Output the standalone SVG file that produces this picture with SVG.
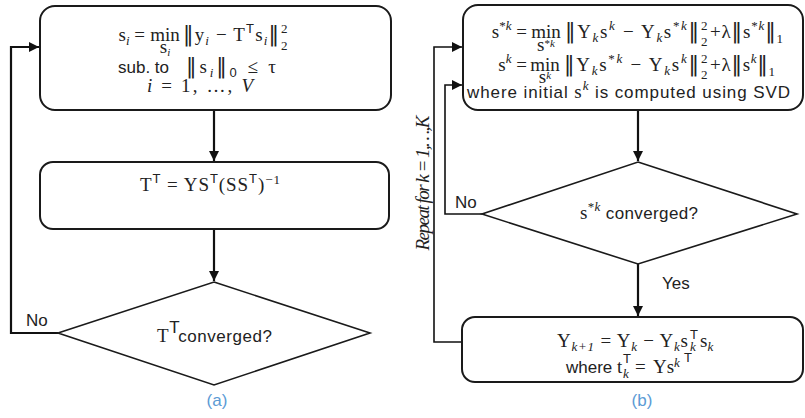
<svg xmlns="http://www.w3.org/2000/svg" width="805" height="418" viewBox="0 0 805 418">
<defs>
<style>
.box{fill:#fff;stroke:#1a1a1a;stroke-width:2}
.dia{fill:#fff;stroke:#1a1a1a;stroke-width:1.6}
.con{fill:none;stroke:#111;stroke-width:2.2}
.con2{fill:none;stroke:#111;stroke-width:1.6}
.m{font-family:"Liberation Serif","DejaVu Serif",serif;font-size:19px;fill:#222}
.t{font-family:"Liberation Sans",Arial,sans-serif;font-size:17px;fill:#222}
.it{font-style:italic}
.sm{font-size:13px}
.nb{font-family:"DejaVu Sans",sans-serif;font-size:21px}
.cap{font-family:"Liberation Sans",Arial,sans-serif;font-size:17px;fill:#5b9bd5}
</style>
<marker id="ah" markerUnits="userSpaceOnUse" markerWidth="11" markerHeight="11" refX="10" refY="5" orient="auto"><path d="M0,0 L10,5 L0,10 z" fill="#111"/></marker>
</defs>
<rect width="805" height="418" fill="#fff"/>

<g id="connectors">
<path class="con" d="M58,333 H11 V47 H39" marker-end="url(#ah)"/>
<path class="con" d="M214,110 V161" marker-end="url(#ah)"/>
<path class="con" d="M214,229 V281" marker-end="url(#ah)"/>
<path class="con2" d="M462,342 H434 V47 H462" marker-end="url(#ah)"/>
<path class="con2" d="M482,214 H445 V85 H462" marker-end="url(#ah)"/>
<path class="con" d="M638,110 V161" marker-end="url(#ah)"/>
<path class="con" d="M638,264 V316" marker-end="url(#ah)"/>
</g>

<g id="a_sparse">
<rect class="box" x="40" y="6" width="351" height="104" rx="15"/>
<text class="m" x="145" y="41" text-anchor="end">s<tspan class="it sm" dy="4">i</tspan><tspan dy="-4"> =</tspan></text>
<text class="m" x="165" y="41" text-anchor="middle">min</text>
<text class="m" x="165" y="53" text-anchor="middle" font-size="14">s<tspan class="it" font-size="11" dy="3">i</tspan></text>
<text class="m" x="183" y="41" textLength="96" lengthAdjust="spacing"><tspan class="nb">‖</tspan>y<tspan class="it sm" dy="4">i</tspan><tspan dy="-4"> − T</tspan><tspan class="t sm" dy="-8">T</tspan><tspan dy="8">s</tspan><tspan class="it sm" dy="4">i</tspan><tspan class="nb" dy="-4">‖</tspan></text>
<text class="m sm" x="281" y="33">2</text>
<text class="m sm" x="281" y="50">2</text>
<text class="t" x="118" y="73">sub. to</text>
<text class="m" x="186" y="73" textLength="90" lengthAdjust="spacing"><tspan class="nb">‖</tspan>s<tspan class="it sm" dy="4">i</tspan><tspan class="nb" dy="-4">‖</tspan><tspan class="t sm" dy="4">0</tspan><tspan dy="-4"> ≤ τ</tspan></text>
<text class="m" x="200" y="92" text-anchor="middle" textLength="106" lengthAdjust="spacing"><tspan class="it">i</tspan> = 1, …, <tspan class="it">V</tspan></text>
</g>

<g id="a_dict">
<rect class="box" x="40" y="162" width="349" height="67" rx="13"/>
<text class="m" x="140" y="191" textLength="140" lengthAdjust="spacing">T<tspan class="t sm" dy="-8">T</tspan><tspan dy="8"> = YS</tspan><tspan class="t sm" dy="-8">T</tspan><tspan dy="8">(SS</tspan><tspan class="t sm" dy="-8">T</tspan><tspan dy="8">)</tspan><tspan class="sm" dy="-7">−1</tspan></text>
</g>

<g id="a_conv">
<polygon class="dia" points="214,282 370,333 214,385 58,333"/>
<text class="m" x="157" y="342" textLength="115" lengthAdjust="spacing">T<tspan class="t" font-size="14" dy="-9">T</tspan><tspan class="t" dy="9">converged?</tspan></text>
</g>

<text class="t" x="26" y="326" font-size="16">No</text>
<text class="cap" x="217" y="406" text-anchor="middle">(a)</text>

<g id="b_update">
<rect class="box" x="463" y="5" width="340" height="105" rx="15"/>
<text class="m" x="527" y="38" text-anchor="end">s<tspan class="sm" dy="-8">*</tspan><tspan class="it sm">k</tspan><tspan dy="8"> =</tspan></text>
<text class="m" x="546" y="38" text-anchor="middle">min</text>
<text class="m" x="546" y="51" text-anchor="middle" font-size="14">s<tspan font-size="11" dy="-4">*</tspan><tspan class="it" font-size="11">k</tspan></text>
<text class="m" x="565" y="38" textLength="134" lengthAdjust="spacing"><tspan class="nb">‖</tspan>Y<tspan class="it sm" dy="4">k</tspan><tspan dy="-4">s</tspan><tspan class="it sm" dy="-8">k</tspan><tspan dy="8"> − Y</tspan><tspan class="it sm" dy="4">k</tspan><tspan dy="-4">s</tspan><tspan class="sm" dy="-8">*</tspan><tspan class="it sm">k</tspan><tspan class="nb" dy="8">‖</tspan></text>
<text class="m sm" x="701" y="30">2</text>
<text class="m sm" x="701" y="46">2</text>
<text class="m" x="710" y="38" textLength="73" lengthAdjust="spacing">+λ<tspan class="nb">‖</tspan>s<tspan class="sm" dy="-8">*</tspan><tspan class="it sm">k</tspan><tspan class="nb" dy="8">‖</tspan><tspan class="sm" dy="5">1</tspan></text>

<text class="m" x="527" y="71" text-anchor="end">s<tspan class="it sm" dy="-8">k</tspan><tspan dy="8"> =</tspan></text>
<text class="m" x="545" y="71" text-anchor="middle">min</text>
<text class="m" x="545" y="83" text-anchor="middle" font-size="14">s<tspan class="it" font-size="11" dy="-4">k</tspan></text>
<text class="m" x="564" y="71" textLength="135" lengthAdjust="spacing"><tspan class="nb">‖</tspan>Y<tspan class="it sm" dy="4">k</tspan><tspan dy="-4">s</tspan><tspan class="sm" dy="-8">*</tspan><tspan class="it sm">k</tspan><tspan dy="8"> − Y</tspan><tspan class="it sm" dy="4">k</tspan><tspan dy="-4">s</tspan><tspan class="it sm" dy="-8">k</tspan><tspan class="nb" dy="8">‖</tspan></text>
<text class="m sm" x="701" y="63">2</text>
<text class="m sm" x="701" y="79">2</text>
<text class="m" x="710" y="71" textLength="65" lengthAdjust="spacing">+λ<tspan class="nb">‖</tspan>s<tspan class="it sm" dy="-8">k</tspan><tspan class="nb" dy="8">‖</tspan><tspan class="sm" dy="5">1</tspan></text>

<text class="t" x="467" y="98" textLength="323" lengthAdjust="spacing">where initial <tspan class="m">s</tspan><tspan class="m it sm" dy="-8">k</tspan><tspan dy="8"> is computed using SVD</tspan></text>
</g>

<g id="b_conv">
<polygon class="dia" points="638,162 797,214 638,264 482,214"/>
<text class="m" x="580" y="219" textLength="118" lengthAdjust="spacing">s<tspan class="sm" dy="-8">*</tspan><tspan class="it sm">k</tspan><tspan class="t" dy="8"> converged?</tspan></text>
</g>

<text class="t" x="455" y="208" font-size="16">No</text>
<text class="t" x="662" y="289" font-size="16">Yes</text>

<g id="b_deflate">
<rect class="box" x="462" y="317" width="341" height="65" rx="13"/>
<text class="m" x="557" y="347" textLength="131" lengthAdjust="spacing">Y<tspan class="it sm" dy="4">k+1</tspan><tspan dy="-4"> = Y</tspan><tspan class="it sm" dy="4">k</tspan><tspan dy="-4"> − Y</tspan><tspan class="it sm" dy="4">k</tspan><tspan dy="-4">s</tspan></text>
<text class="t sm" x="690" y="339">T</text>
<text class="m it sm" x="690" y="351">k</text>
<text class="m" x="700" y="347">s<tspan class="it sm" dy="4">k</tspan></text>
<text class="t" x="566" y="373">where</text>
<text class="m" x="617" y="373">t</text>
<text class="t sm" x="623" y="363">T</text>
<text class="m it sm" x="623" y="378">k</text>
<text class="m" x="635" y="373">=</text>
<text class="m" x="653" y="373">Ys</text>
<text class="m it sm" x="674" y="367">k</text>
<text class="t sm" x="684" y="362">T</text>
</g>

<text class="cap" x="642" y="406" text-anchor="middle">(b)</text>

<text class="m it" transform="translate(429,183) rotate(-90)" text-anchor="middle" font-size="17" textLength="135" lengthAdjust="spacing">Repeat for k = 1,…,K</text>
</svg>
